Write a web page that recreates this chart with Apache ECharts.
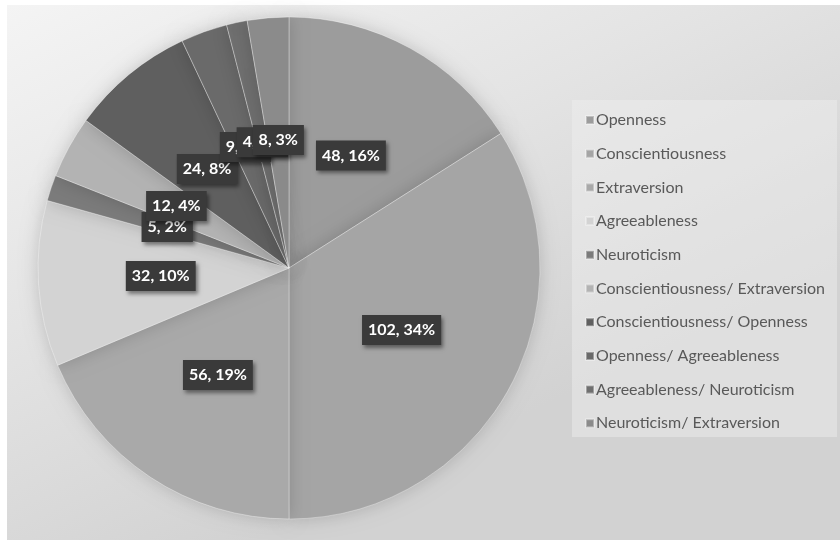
<!DOCTYPE html>
<html>
<head>
<meta charset="utf-8">
<script src="https://cdn.jsdelivr.net/npm/echarts@6/dist/echarts.min.js"></script>
<style>html,body{margin:0;padding:0;background:#fff;}#c{width:840px;height:542px;}</style>
</head>
<body>
<div id="c"></div>
<script>
const categories = ["Openness","Conscientiousness","Extraversion","Agreeableness","Neuroticism","Conscientiousness/ Extraversion","Conscientiousness/ Openness","Openness/ Agreeableness","Agreeableness/ Neuroticism","Neuroticism/ Extraversion"];
const values = [48,102,56,32,5,12,24,9,4,8];
const percentLabels = [16,34,19,10,2,4,8,3,1,3];
const colors = ["#9c9c9c","#a5a5a5","#a9a9a9","#d3d3d3","#7b7b7b","#b3b3b3","#5f5f5f","#6a6a6a","#6f6f6f","#8b8b8b"];

const chart = echarts.init(document.getElementById('c'), null, {renderer:'canvas'});
const data = categories.map((n,i)=>({name:n, value:values[i], itemStyle:{color:colors[i]}}));
chart.setOption({
  animation:false,
  graphic:[
    {type:'rect', z:-10, shape:{x:7,y:5,width:833,height:535},
     style:{fill:{type:'linear',x:0,y:0,x2:0.3,y2:1,colorStops:[{offset:0,color:'#f4f4f4'},{offset:0.5,color:'#e4e4e4'},{offset:1,color:'#d2d2d2'}]}}},
    {type:'rect', z:-9, shape:{x:572,y:100,width:265,height:337},
     style:{fill:'rgba(240,240,240,0.45)'}}
  ],
  legend:{
    orient:'vertical', left:580, top:107,
    itemWidth:8, itemHeight:8, itemGap:17.7,
    icon:'rect',
    textStyle:{fontFamily:'Lato', fontSize:16, color:'#595959', lineHeight:16, padding:[0,0,0,-3]},
    data:categories
  },
  series:[{
    type:'pie',
    center:[289,268],
    radius:[0,251],
    startAngle:90,
    clockwise:true,
    data:data,
    itemStyle:{borderColor:'rgba(255,255,255,0.35)', borderWidth:1, shadowBlur:18, shadowColor:'rgba(0,0,0,0.18)'},
    labelLayout:{hideOverlap:false},
    avoidLabelOverlap:false,
    label:{
      show:true, position:'inside',
      formatter:(p)=> p.value + ', ' + percentLabels[p.dataIndex] + '%',
      fontFamily:'Lato', fontWeight:'bold', fontSize:16, color:'#ffffff',
      backgroundColor:'#3a3a3a', padding:[7,6,5,6], lineHeight:18,
      shadowColor:'rgba(0,0,0,0.45)', shadowBlur:4, shadowOffsetX:2, shadowOffsetY:3
    },
    labelLine:{show:false},
    emphasis:{disabled:true}
  }]
});
</script>
</body>
</html>
